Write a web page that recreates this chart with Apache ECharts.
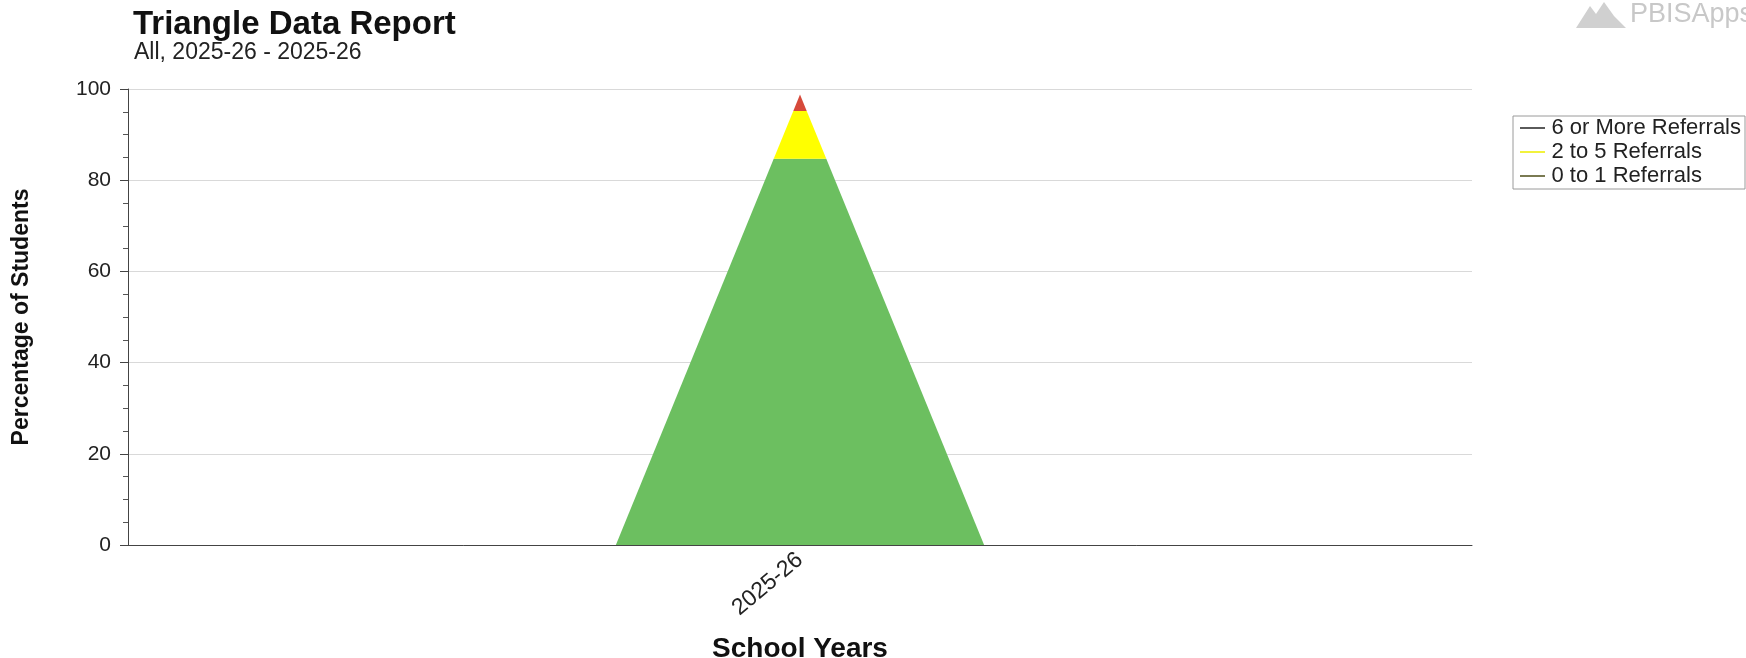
<!DOCTYPE html>
<html>
<head>
<meta charset="utf-8">
<script src="https://cdn.jsdelivr.net/npm/echarts@6/dist/echarts.min.js"></script>
<style>
  html, body { margin: 0; padding: 0; background: #ffffff; }
  #chart { width: 1746px; height: 658px; }
</style>
</head>
<body>
<div id="chart"></div>
<script>
// ---- Data ----
const categories = ['2025-26'];
const seriesNames = ['0 to 1 Referrals', '2 to 5 Referrals', '6 or More Referrals'];
const zeroToOne = [84.7];
const twoToFive = [10.5];
const sixOrMore = [3.6];
const legendOrder = ['6 or More Referrals', '2 to 5 Referrals', '0 to 1 Referrals'];
const yMin = 0, yMax = 100, yInterval = 20;

// ---- Styles ----
const fillColors = ['#6cbf60', '#ffff00', '#d6493a'];
const legendIconColors = {
  '6 or More Referrals': '#5a5a5a',
  '2 to 5 Referrals': '#f2f23c',
  '0 to 1 Referrals': '#7a7a52'
};
const FONT = '"Liberation Sans", Arial, sans-serif';

// Build stacked layer data from the arrays
const layers = [zeroToOne, twoToFive, sixOrMore];
const totals = categories.map((c, i) => layers.reduce((s, arr) => s + arr[i], 0));
const layerData = layers.map((arr, li) => categories.map((c, i) => {
  let lo = 0;
  for (let k = 0; k < li; k++) lo += layers[k][i];
  return [c, lo, lo + arr[i], totals[i]];
}));

function renderLayer(params, api) {
  const ci = api.value(0);
  const lo = api.value(1);
  const hi = api.value(2);
  const total = api.value(3);
  const base = api.coord([ci, 0]);
  const band = api.size([1, 0])[0];
  const halfBase = band * 0.137;
  const w = v => halfBase * (1 - v / total);
  const pLo = api.coord([ci, lo]);
  const pHi = api.coord([ci, hi]);
  const cx = base[0];
  return {
    type: 'polygon',
    shape: { points: [[cx - w(lo), pLo[1]], [cx + w(lo), pLo[1]], [cx + w(hi), pHi[1]], [cx - w(hi), pHi[1]]] },
    style: { fill: api.visual('color') }
  };
}

const chart = echarts.init(document.getElementById('chart'), null, { renderer: 'canvas' });
chart.setOption({
  backgroundColor: '#ffffff',
  animation: false,
  title: [
    { text: 'Triangle Data Report', left: 128, top: 3,
      textStyle: { fontFamily: FONT, fontSize: 33, fontWeight: 'bold', color: '#111' } },
    { text: 'All, 2025-26 - 2025-26', left: 129, top: 36,
      textStyle: { fontFamily: FONT, fontSize: 23, fontWeight: 'normal', color: '#222' } }
  ],
  graphic: [
    { type: 'polygon', left: 1576, top: 2,
      shape: { points: [[0, 26], [14, 4], [20, 12], [28, 0], [38, 14], [50, 26]] },
      style: { fill: '#d0d0d0' } },
    { type: 'text', left: 1630, top: 1,
      style: { text: 'PBISApps', fontFamily: FONT, fontSize: 27, fill: '#c8c8c8' } }
  ],
  legend: {
    data: legendOrder.map(n => ({ name: n, itemStyle: { color: legendIconColors[n] } })),
    orient: 'vertical',
    left: 1513,
    top: 116,
    icon: 'path://M0,0H25V2H0Z',
    itemWidth: 28,
    itemHeight: 2,
    itemGap: 2,
    padding: [1, 4, 2, 7],
    borderColor: '#9a9a9a',
    borderWidth: 1,
    backgroundColor: '#ffffff',
    selectedMode: false,
    textStyle: { fontFamily: FONT, fontSize: 22, color: '#222', lineHeight: 20 }
  },
  grid: { left: 128, right: 274, top: 89, bottom: 113, containLabel: false, outerBoundsMode: 'none' },
  xAxis: {
    type: 'category',
    data: categories,
    boundaryGap: true,
    name: 'School Years',
    nameLocation: 'middle',
    nameGap: 90,
    nameTextStyle: { fontFamily: FONT, fontSize: 28, fontWeight: 'bold', color: '#111' },
    axisLine: { lineStyle: { color: '#444', width: 1 } },
    axisTick: { alignWithLabel: true, length: 6, lineStyle: { color: '#444' } },
    axisLabel: { rotate: 40, margin: 12, fontFamily: FONT, fontSize: 23, color: '#222' },
    splitLine: { show: false }
  },
  yAxis: {
    type: 'value',
    min: yMin, max: yMax, interval: yInterval,
    name: 'Percentage of Students',
    nameLocation: 'middle',
    nameGap: 95,
    nameRotate: 90,
    nameTextStyle: { fontFamily: FONT, fontSize: 23, fontWeight: 'bold', color: '#111' },
    axisLine: { show: true, lineStyle: { color: '#444', width: 1 } },
    axisTick: { show: true, length: 8, lineStyle: { color: '#444' } },
    minorTick: { show: true, splitNumber: 4, length: 5, lineStyle: { color: '#555' } },
    axisLabel: { margin: 17, fontFamily: FONT, fontSize: 21, color: '#222' },
    splitLine: { show: true, lineStyle: { color: '#d9d9d9', width: 1 } }
  },
  series: seriesNames.map((name, li) => ({
    name: name,
    type: 'custom',
    renderItem: renderLayer,
    itemStyle: { color: fillColors[li] },
    encode: { x: 0, y: [1, 2] },
    data: layerData[li],
    z: 3
  }))
});
</script>
</body>
</html>
